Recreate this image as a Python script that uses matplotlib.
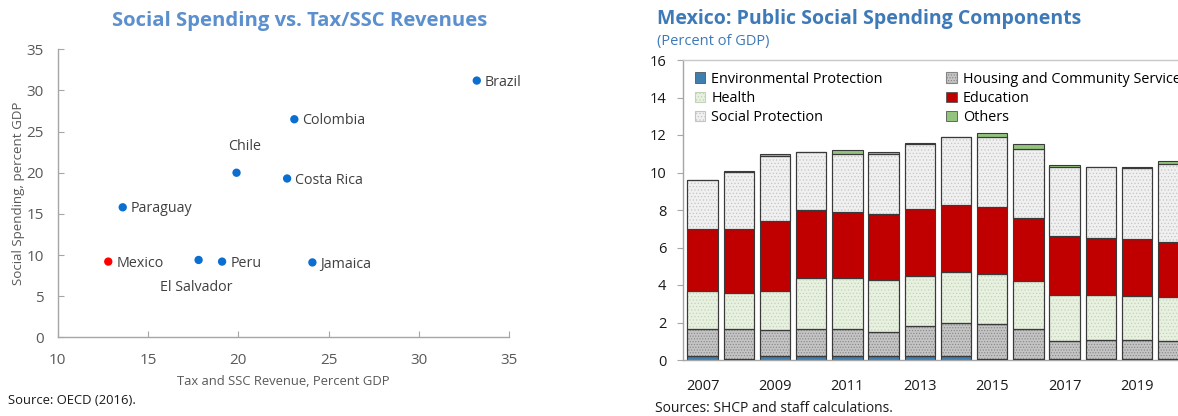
import matplotlib
matplotlib.use("Agg")
import matplotlib.pyplot as plt
from matplotlib.patches import Patch
import numpy as np

plt.rcParams['font.family'] = ['Open Sans', 'DejaVu Sans']
plt.rcParams['hatch.linewidth'] = 0.5

# ---- Scatter: social spending vs tax/SSC revenues ----
countries = ["Brazil", "Colombia", "Chile", "Costa Rica", "Paraguay",
             "Mexico", "El Salvador", "Peru", "Jamaica"]
tax_revenue = [33.2, 23.1, 19.9, 22.7, 13.6, 12.8, 17.8, 19.1, 24.1]
social_spending = [31.2, 26.5, 20.0, 19.3, 15.8, 9.2, 9.4, 9.2, 9.1]

# ---- Stacked bars: Mexico public social spending components ----
years = list(range(2007, 2021))
environmental = [0.20, 0.05, 0.20, 0.20, 0.20, 0.20, 0.20, 0.20, 0.05, 0.05, 0.05, 0.05, 0.05, 0.05]
housing = [1.44, 1.60, 1.38, 1.45, 1.45, 1.28, 1.60, 1.76, 1.85, 1.62, 0.95, 1.02, 1.00, 0.95]
health = [2.04, 1.91, 2.10, 2.71, 2.71, 2.79, 2.66, 2.72, 2.67, 2.53, 2.48, 2.41, 2.38, 2.38]
education = [3.29, 3.41, 3.72, 3.62, 3.52, 3.52, 3.61, 3.60, 3.61, 3.39, 3.12, 3.01, 3.02, 2.93]
social_protection = [2.61, 3.06, 3.46, 3.09, 3.12, 3.21, 3.43, 3.60, 3.70, 3.68, 3.67, 3.80, 3.81, 4.14]
others = [0.00, 0.07, 0.12, 0.00, 0.22, 0.09, 0.10, 0.00, 0.21, 0.25, 0.13, 0.00, 0.04, 0.15]

W, H = 1178, 416
fig = plt.figure(figsize=(W / 100, H / 100), dpi=100)

title_color = "#5b8fcd"
right_title_color = "#3e7ab8"
gray_text = "#595959"
spine_gray = "#a6a6a6"

# Left panel
ax1 = fig.add_axes([57.7 / W, (H - 337.3) / H, (509.3 - 57.7) / W, (337.3 - 49.3) / H])
point_colors = ["#ff0000" if c == "Mexico" else "#0a6fd0" for c in countries]
ax1.scatter(tax_revenue, social_spending, s=36, c=point_colors, zorder=3, linewidths=0)
label_offsets = {"Chile": (0.45, 3.2, "center"), "El Salvador": (-0.15, -3.3, "center")}
for name, x, y in zip(countries, tax_revenue, social_spending):
    if name in label_offsets:
        dx, dy, ha = label_offsets[name]
        ax1.text(x + dx, y + dy, name, ha=ha, va="center", fontsize=10.3, color="#404040")
    else:
        ax1.text(x + 0.45, y - 0.2, name, ha="left", va="center", fontsize=10.3, color="#404040")
ax1.set_xlim(10, 35)
ax1.set_ylim(0, 35)
ax1.set_xticks(range(10, 36, 5))
ax1.set_yticks(range(0, 36, 5))
ax1.tick_params(axis="both", direction="in", length=4, color=spine_gray, labelcolor=gray_text, labelsize=11)
ax1.tick_params(axis="x", pad=11)
ax1.tick_params(axis="y", pad=10)
for side in ["top", "right"]:
    ax1.spines[side].set_visible(False)
for side in ["left", "bottom"]:
    ax1.spines[side].set_color(spine_gray)
    ax1.spines[side].set_linewidth(1.0)
ax1.set_xlabel("Tax and SSC Revenue, Percent GDP", fontsize=9.4, color=gray_text, labelpad=5)
ax1.set_ylabel("Social Spending, percent GDP", fontsize=9.6, color=gray_text, labelpad=1)
fig.text(300 / W, 1 - 21 / H, "Social Spending vs. Tax/SSC Revenues", ha="center", va="center",
         fontsize=14.6, fontweight="bold", color=title_color)
fig.text(8 / W, 1 - 401 / H, "Source: OECD (2016).", ha="left", va="center", fontsize=9.4, color="#1a1a1a")

# Right panel
x_left, x_right = 2006.46, 2020.54
px_per_year = 36.2
ax2 = fig.add_axes([683 / W, (H - 360) / H, (x_right - x_left) * px_per_year / W, 300 / H])
components = [
    ("Environmental Protection", environmental, "#3f7fb0", None, None),
    ("Housing and Community Service", housing, "#c4c4c4", "#858585", "......"),
    ("Health", health, "#e8f1e0", "#c3d2b8", "....."),
    ("Education", education, "#c00000", None, None),
    ("Social Protection", social_protection, "#f0f0f0", "#c4c4c4", "....."),
    ("Others", others, "#93c47d", None, None),
]
bottom = np.zeros(len(years))
bar_w = 0.84
handles = {}
for name, vals, face, hcol, hatch in components:
    vals = np.asarray(vals)
    ax2.bar(years, vals, width=bar_w, bottom=bottom, color=face, edgecolor="#3a3a3a",
            linewidth=0.8, zorder=2)
    if hatch:
        ax2.bar(years, vals, width=bar_w, bottom=bottom, fill=False, edgecolor=hcol,
                hatch=hatch, linewidth=0, zorder=2.5)
        ax2.bar(years, vals, width=bar_w, bottom=bottom, fill=False, edgecolor="#3a3a3a",
                linewidth=0.8, zorder=2.6)
        handles[name] = Patch(facecolor=face, edgecolor=hcol, hatch=hatch, linewidth=0.8)
    else:
        handles[name] = Patch(facecolor=face, edgecolor="#555555", linewidth=0.6)
    bottom += vals

order = ["Environmental Protection", "Health", "Social Protection",
         "Housing and Community Service", "Education", "Others"]
ax2.legend([handles[n] for n in order], order, ncol=2, loc="upper left",
           bbox_to_anchor=(0.0, 1.0), frameon=False, fontsize=10.4,
           handlelength=0.75, handleheight=0.75, handletextpad=0.4,
           columnspacing=4.4, labelspacing=0.3, borderaxespad=0.55, borderpad=0.25)

ax2.set_xlim(x_left, x_right)
ax2.set_ylim(0, 16)
ax2.set_yticks(range(0, 17, 2))
ax2.set_xticks(years[::2])
ax2.tick_params(axis="x", length=0, pad=14, labelsize=10.5, labelcolor="#1a1a1a")
ax2.tick_params(axis="y", direction="out", length=4, color=spine_gray, pad=8, labelsize=10.5,
                labelcolor="#1a1a1a")
for side in ["left", "bottom", "top", "right"]:
    ax2.spines[side].set_color("#c8c8c8")
    ax2.spines[side].set_linewidth(1.0)
ax2.spines["left"].set_color(spine_gray)
ax2.spines["bottom"].set_color(spine_gray)

fig.text(657 / W, 1 - 19 / H, "Mexico: Public Social Spending Components", ha="left", va="center",
         fontsize=14, fontweight="bold", color=right_title_color)
fig.text(657 / W, 1 - 42 / H, "(Percent of GDP)", ha="left", va="center", fontsize=10.5,
         color=right_title_color)
fig.text(655 / W, 1 - 408 / H, "Sources: SHCP and staff calculations.", ha="left", va="center",
         fontsize=10, color="#1a1a1a")

fig.savefig("out.png", dpi=100)
